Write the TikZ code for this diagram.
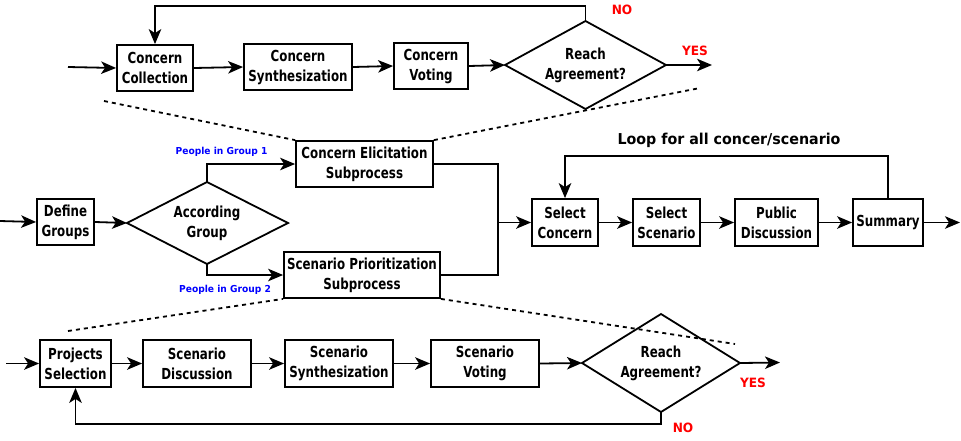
\documentclass[tikz,border=0pt]{standalone}
\usepackage{fontspec}
\usetikzlibrary{arrows.meta}
\newfontfamily\boxfont{DejaVu Sans}[FakeStretch=0.78]
\newfontfamily\lblfont{DejaVu Sans}[FakeStretch=0.95]
\definecolor{lblblue}{RGB}{0,0,255}
\definecolor{lblred}{RGB}{255,0,0}
\tikzset{
  bx/.style={draw, line width=1.8pt, rectangle, fill=white, inner sep=0pt, align=center,
    font=\boxfont\bfseries\fontsize{15.2}{20}\selectfont},
  dtext/.style={inner sep=0pt, align=center, font=\boxfont\bfseries\fontsize{15.2}{20}\selectfont},
  dia/.style={draw, line width=1.8pt, line join=miter},
  arr/.style={line width=1.8pt, -{Stealth[length=15pt,width=12.5pt,inset=4pt]}},
  ln/.style={line width=1.8pt},
  dsh/.style={line width=1.8pt, dash pattern=on 4pt off 4pt},
  yn/.style={inner sep=0pt, text=lblred, font=\lblfont\bfseries\fontsize{12.8}{15}\selectfont},
  grp/.style={inner sep=0pt, text=lblblue, font=\lblfont\bfseries\fontsize{9.6}{12}\selectfont},
  looplbl/.style={inner sep=0pt, font=\lblfont\bfseries\fontsize{15}{18}\selectfont}
}
\begin{document}
\begin{tikzpicture}[x=1pt,y=-1pt]
\useasboundingbox (0,0) rectangle (961,440);

% ---------- top row: concern elicitation ----------
\node[bx, minimum width=76pt, minimum height=46pt] (cc) at (155,68) {Concern\\Collection};
\node[bx, minimum width=108pt, minimum height=46pt] (cs) at (298,67) {Concern\\Synthesization};
\node[bx, minimum width=74pt, minimum height=46pt] (cv) at (431,66) {Concern\\Voting};
\coordinate (d1l) at (505,65);
\coordinate (d1r) at (666,65);
\coordinate (d1t) at (585.5,21);
\coordinate (d1b) at (585.5,109);
\draw[dia] (d1l) -- (d1t) -- (d1r) -- (d1b) -- cycle;
\node[dtext] (d1) at (585.5,65) {Reach\\Agreement?};
\coordinate (in1) at (68,67);
\coordinate (out1) at (712,65);
\coordinate (l1) at (0,6);
\draw[arr] (in1) -- (cc.west);
\draw[arr] (cc.east) -- (cs.west);
\draw[arr] (cs.east) -- (cv.west);
\draw[arr] (cv.east) -- (d1l);
\draw[arr] (d1r) -- (out1);
\draw[arr] (d1t) -- (d1t |- l1) -| (cc.north);
\node[yn] (no1) at (622,10) {NO};
\node[yn] (yes1) at (695,51) {YES};

% ---------- middle row ----------
\node[bx, minimum width=57pt, minimum height=46pt] (dg) at (65.5,222) {Define\\Groups};
\coordinate (agl) at (127,223);
\coordinate (agr) at (288,223);
\coordinate (agt) at (207,182);
\coordinate (agb) at (207,264);
\draw[dia] (agl) -- (agt) -- (agr) -- (agb) -- cycle;
\node[dtext] (ag) at (207,223) {According\\Group};
\node[bx, minimum width=137pt, minimum height=46pt] (ce) at (364.5,164) {Concern Elicitation\\Subprocess};
\node[bx, minimum width=156pt, minimum height=46pt] (sp) at (362,275) {Scenario Prioritization\\Subprocess};
\coordinate (in2) at (0,221);
\coordinate (mx) at (498,222.5);
\draw[arr] (in2) -- (dg.west);
\draw[arr] (dg.east) -- (agl);
\draw[arr] (agt) |- (ce.west);
\draw[arr] (agb) |- (sp.west);
\draw[ln] (ce.east) -| (mx);
\draw[ln] (sp.east) -| (mx);
\node[grp] (g1) at (221.5,152) {People in Group 1};
\node[grp] (g2) at (225,290) {People in Group 2};

\node[bx, minimum width=66pt, minimum height=47pt] (sc) at (565,222.5) {Select\\Concern};
\node[bx, minimum width=67pt, minimum height=47pt] (ss) at (666.5,222.5) {Select\\Scenario};
\node[bx, minimum width=83pt, minimum height=47pt] (pd) at (776.5,222.5) {Public\\Discussion};
\node[bx, minimum width=70pt, minimum height=47pt] (su) at (888,222.5) {Summary};
\coordinate (out2) at (960,222.5);
\coordinate (l2) at (0,156);
\draw[arr] (mx) -- (sc.west);
\draw[arr] (sc.east) -- (ss.west);
\draw[arr] (ss.east) -- (pd.west);
\draw[arr] (pd.east) -- (su.west);
\draw[arr] (su.east) -- (out2);
\draw[arr] (su.north) -- (su.north |- l2) -| (sc.north);
\node[looplbl] (lp) at (729,140) {Loop for all concer/scenario};

% ---------- bottom row: scenario prioritization ----------
\node[bx, minimum width=71pt, minimum height=47pt] (ps) at (75.5,363.5) {Projects\\Selection};
\node[bx, minimum width=108pt, minimum height=47pt] (sd) at (197,363.5) {Scenario\\Discussion};
\node[bx, minimum width=108pt, minimum height=47pt] (sy) at (339,363.5) {Scenario\\Synthesization};
\node[bx, minimum width=108pt, minimum height=47pt] (sv) at (485,363.5) {Scenario\\Voting};
\coordinate (d2l) at (582,363);
\coordinate (d2r) at (740,363);
\coordinate (d2t) at (661,314);
\coordinate (d2b) at (661,412);
\draw[dia] (d2l) -- (d2t) -- (d2r) -- (d2b) -- cycle;
\node[dtext] (d2) at (661,363) {Reach\\Agreement?};
\coordinate (in3) at (6,363.5);
\coordinate (out3) at (780,362.5);
\coordinate (l3) at (0,424);
\draw[arr] (in3) -- (ps.west);
\draw[arr] (ps.east) -- (sd.west);
\draw[arr] (sd.east) -- (sy.west);
\draw[arr] (sy.east) -- (sv.west);
\draw[arr] (sv.east) -- (d2l);
\draw[arr] (d2r) -- (out3);
\draw[arr] (d2b) -- (d2b |- l3) -| (ps.south);
\node[yn] (yes2) at (753,383) {YES};
\node[yn] (no2) at (683,428) {NO};

% ---------- dashed zoom lines ----------
\coordinate (ds1) at (104,101);
\coordinate (ds2) at (700,88);
\coordinate (ds3) at (68,331);
\coordinate (ds4) at (735,344);
\draw[dsh] (ds1) -- (ce.north west);
\draw[dsh] (ce.north east) -- (ds2);
\draw[dsh] (ds3) -- (sp.south west);
\draw[dsh] (sp.south east) -- (ds4);
\end{tikzpicture}
\end{document}
